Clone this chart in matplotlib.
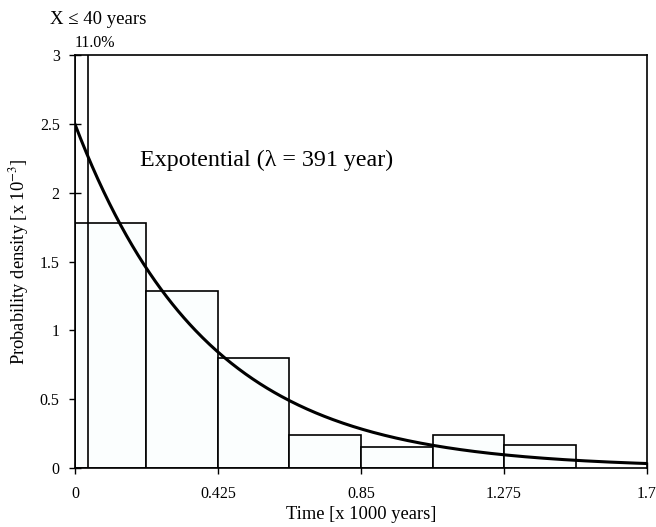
import numpy as np
import matplotlib
matplotlib.use("Agg")
import matplotlib.pyplot as plt

plt.rcParams['font.family'] = ['Liberation Serif', 'DejaVu Serif']
plt.rcParams['mathtext.fontset'] = 'stix'

# Histogram bins (x 1000 years) and probability densities (x 10^-3)
bin_left = [0.0, 0.2125, 0.425, 0.6375, 0.85, 1.0625, 1.275]
bin_width = 0.2125
density = [1.78, 1.29, 0.80, 0.24, 0.155, 0.24, 0.165]

# Short-interval class X <= 40 years
short_width = 0.04
short_pct = 11.0

# Exponential fit
lam_years = 391
amplitude = 2.5

xticks = [0, 0.425, 0.85, 1.275, 1.7]
xtick_labels = ["0", "0.425", "0.85", "1.275", "1.7"]
yticks = [0, 0.5, 1, 1.5, 2, 2.5, 3]
ytick_labels = ["0", "0.5", "1", "1.5", "2", "2.5", "3"]

fig = plt.figure(figsize=(6.56, 5.27), dpi=100)
ax = fig.add_axes([0.1143, 0.112, 0.8720, 0.7827])

fill = '#fbfefe'
ax.bar(bin_left, density, width=bin_width, align='edge',
       facecolor=fill, edgecolor='black', linewidth=1.2, zorder=2)
ax.bar([0.0], [short_pct], width=short_width, align='edge',
       facecolor='none', edgecolor='black', linewidth=1.2, zorder=3)

t = np.linspace(0, 1.7, 400)
lam = lam_years / 1000.0
ax.plot(t, amplitude * np.exp(-t / lam), color='black', linewidth=2.2, zorder=4)

ax.set_xlim(0, 1.7)
ax.set_ylim(0, 3)
ax.set_xticks(xticks)
ax.set_xticklabels(xtick_labels)
ax.set_yticks(yticks)
ax.set_yticklabels(ytick_labels)
ax.tick_params(direction='inout', length=8, width=1.0, labelsize=11.5)
ax.tick_params(axis='x', pad=9)
ax.tick_params(axis='y', pad=7)
for s in ax.spines.values():
    s.set_linewidth(1.2)

ax.set_xlabel("Time [x 1000 years]", fontsize=13.3, labelpad=3)
ax.set_ylabel(r"Probability density [x 10$^{-3}$]", fontsize=13.3, labelpad=6)

ax.text(0.193, 2.24, u"Expotential (\u03bb = " + str(lam_years) + " year)",
        fontsize=17.3, va='center', ha='left')
ax.text(0.0, 3.09, "%.1f%%" % short_pct, fontsize=11.5, va='center', ha='left',
        clip_on=False)
ax.text(-0.074, 3.26, u"X \u2264 40 years", fontsize=13.5, va='center', ha='left',
        clip_on=False)

fig.savefig("out.png", dpi=100)
